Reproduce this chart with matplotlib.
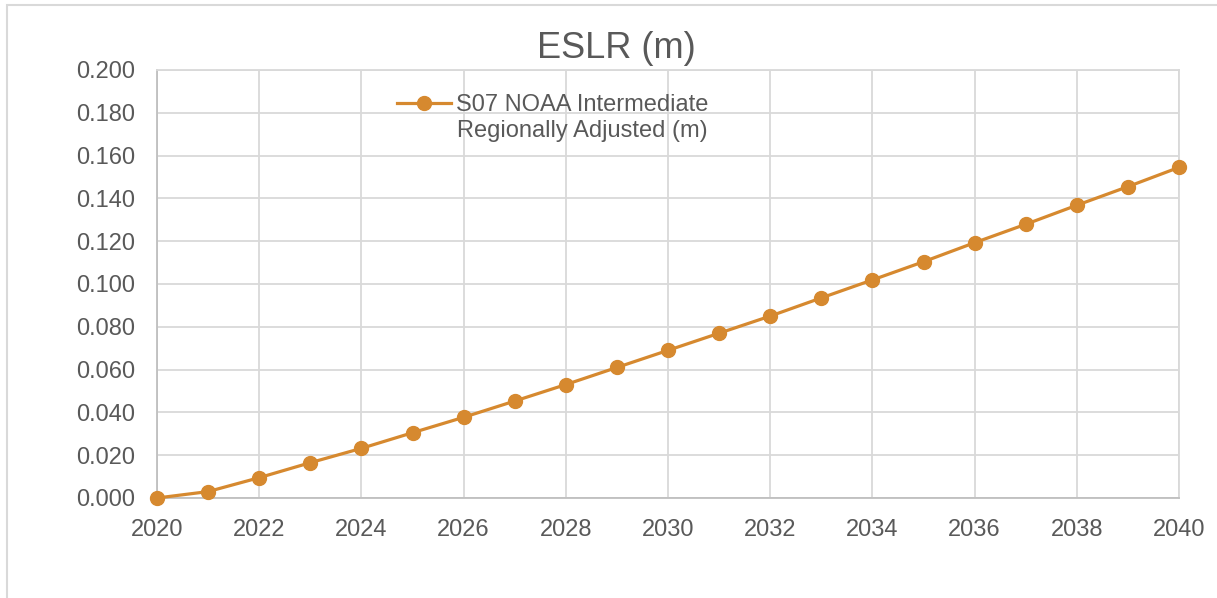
import numpy as np
import matplotlib.pyplot as plt
from matplotlib.patches import Rectangle

years = list(range(2020, 2041))
eslr = [0.000, 0.003, 0.0095, 0.0165, 0.0232, 0.0305, 0.0377, 0.0453, 0.053, 0.061,
        0.069, 0.077, 0.085, 0.0935, 0.1019, 0.1104, 0.1193, 0.1279, 0.1368, 0.1455, 0.1545]
series_label = ["S07 NOAA Intermediate", "Regionally Adjusted (m)"]
title = "ESLR (m)"

plt.rcParams['font.family'] = ['Liberation Sans', 'DejaVu Sans']
txt = '#595959'
grid = '#D9D9D9'
orange = '#D6892F'

fig = plt.figure(figsize=(12.17, 5.98), dpi=100)
W, H = 1217, 598
ax = fig.add_axes([157 / W, 1 - 498 / H, (1179 - 157) / W, (498 - 70) / H])

# outer chart border
fig.patches.append(Rectangle((7 / W, -0.1), 1.2, 1 - 5 / H + 0.1, transform=fig.transFigure,
                             fill=False, edgecolor=grid, linewidth=1.5))

ax.plot(years, eslr, '-o', color=orange, linewidth=2.3, markersize=10, label=series_label[0],
        zorder=3, clip_on=False)

ax.set_xlim(2020, 2040)
ax.set_ylim(0, 0.2)
ax.set_xticks(np.arange(2020, 2041, 2))
ax.set_yticks(np.arange(0, 0.201, 0.02))
ax.set_yticklabels([f"{v:.3f}" for v in np.arange(0, 0.201, 0.02)])
ax.grid(True, color=grid, linewidth=1.3)
ax.set_axisbelow(True)
ax.tick_params(axis='both', length=0, labelsize=17, labelcolor=txt)
ax.tick_params(axis='y', pad=16)
ax.tick_params(axis='x', pad=15)
for s in ['top', 'right']:
    ax.spines[s].set_color(grid)
    ax.spines[s].set_linewidth(1.3)
for s in ['left', 'bottom']:
    ax.spines[s].set_color('#BFBFBF')
    ax.spines[s].set_linewidth(1.3)

fig.text(616 / W, 1 - 48 / H, title, fontsize=26, color=txt, ha='center', va='center')

# legend: handle sits on the first line of the label, second line wraps under the text
leg = ax.legend(loc='upper left', bbox_to_anchor=(397 / W, 1 - 94 / H), bbox_transform=fig.transFigure,
                frameon=False, fontsize=17, borderpad=0, borderaxespad=0, handlelength=2.3,
                handletextpad=0.22)
for t in leg.get_texts():
    t.set_color(txt)
fig.text(457 / W, 1 - 131 / H, series_label[1], fontsize=17, color=txt, ha='left', va='center')

fig.savefig('out.png', dpi=100)
